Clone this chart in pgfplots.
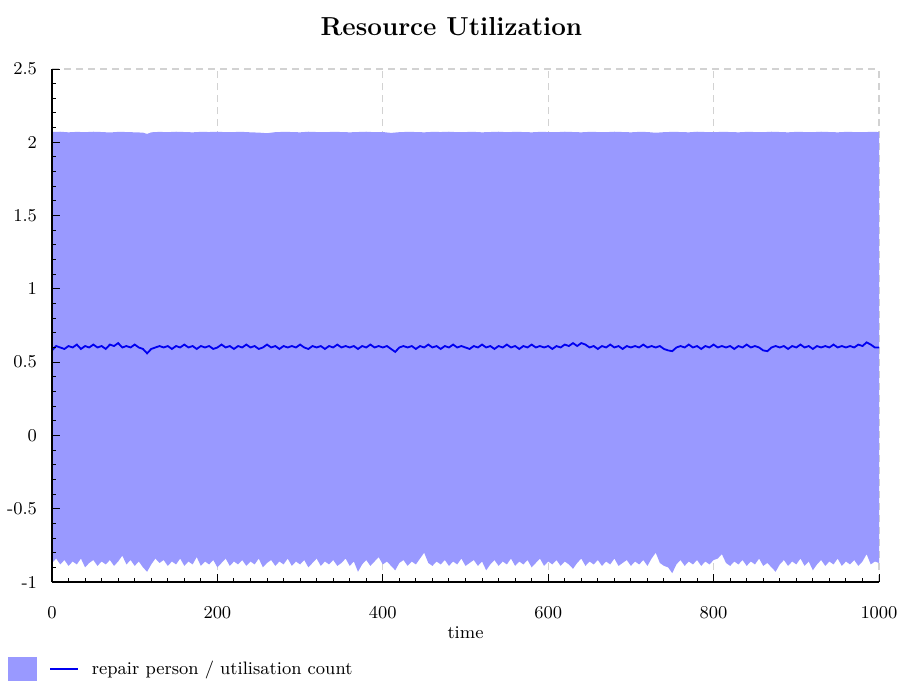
\documentclass[border=0pt]{standalone}
\usepackage{pgfplots}
\pgfplotsset{compat=1.18}
\usepackage{pgfplotstable}
\usepgfplotslibrary{fillbetween}
\definecolor{areafill}{RGB}{153,153,255}
\definecolor{meanline}{RGB}{0,0,240}
\definecolor{gridgray}{RGB}{210,210,210}
\pgfplotsset{layers/mylayers/.define layer set={axis background,axis grid,pre main,main,axis ticks,axis lines,axis tick labels,axis descriptions,axis foreground}{
  grid style={/pgfplots/on layer=axis grid},
  tick style={/pgfplots/on layer=axis ticks},
  axis line style={/pgfplots/on layer=axis lines},
  ticklabel style={/pgfplots/on layer=axis tick labels},
  legend style={/pgfplots/on layer=axis descriptions}
}}
\pgfplotstableread{
t lo mid
0 -0.87 0.58
5 -0.84 0.61
10 -0.88 0.60
15 -0.85 0.59
20 -0.89 0.61
25 -0.86 0.60
30 -0.88 0.62
35 -0.84 0.59
40 -0.90 0.61
45 -0.87 0.60
50 -0.85 0.62
55 -0.89 0.60
60 -0.86 0.61
65 -0.88 0.59
70 -0.85 0.62
75 -0.89 0.61
80 -0.86 0.63
85 -0.82 0.60
90 -0.88 0.61
95 -0.85 0.60
100 -0.89 0.62
105 -0.86 0.60
110 -0.90 0.59
115 -0.93 0.56
120 -0.88 0.59
125 -0.84 0.60
130 -0.87 0.61
135 -0.85 0.60
140 -0.89 0.61
145 -0.86 0.59
150 -0.88 0.61
155 -0.84 0.60
160 -0.89 0.62
165 -0.86 0.60
170 -0.88 0.61
175 -0.83 0.59
180 -0.89 0.61
185 -0.86 0.60
190 -0.88 0.61
195 -0.85 0.59
200 -0.90 0.60
205 -0.87 0.62
210 -0.84 0.60
215 -0.89 0.61
220 -0.86 0.59
225 -0.88 0.61
230 -0.85 0.60
235 -0.89 0.62
240 -0.86 0.60
245 -0.88 0.61
250 -0.84 0.59
255 -0.90 0.60
260 -0.87 0.62
265 -0.85 0.60
270 -0.89 0.61
275 -0.86 0.59
280 -0.88 0.61
285 -0.84 0.60
290 -0.89 0.61
295 -0.86 0.60
300 -0.88 0.62
305 -0.85 0.60
310 -0.90 0.59
315 -0.87 0.61
320 -0.84 0.60
325 -0.89 0.61
330 -0.86 0.59
335 -0.88 0.61
340 -0.85 0.60
345 -0.89 0.62
350 -0.87 0.60
355 -0.84 0.61
360 -0.89 0.60
365 -0.86 0.61
370 -0.93 0.59
375 -0.88 0.61
380 -0.85 0.60
385 -0.89 0.62
390 -0.86 0.60
395 -0.83 0.61
400 -0.88 0.60
405 -0.86 0.61
410 -0.89 0.59
415 -0.92 0.57
420 -0.87 0.60
425 -0.85 0.61
430 -0.89 0.60
435 -0.86 0.61
440 -0.88 0.59
445 -0.84 0.61
450 -0.80 0.60
455 -0.87 0.62
460 -0.89 0.60
465 -0.86 0.61
470 -0.88 0.59
475 -0.85 0.61
480 -0.89 0.60
485 -0.86 0.62
490 -0.88 0.60
495 -0.84 0.61
500 -0.89 0.60
505 -0.87 0.59
510 -0.85 0.61
515 -0.89 0.60
520 -0.86 0.62
525 -0.92 0.60
530 -0.88 0.61
535 -0.85 0.59
540 -0.89 0.61
545 -0.86 0.60
550 -0.88 0.62
555 -0.84 0.60
560 -0.89 0.61
565 -0.86 0.59
570 -0.88 0.61
575 -0.85 0.60
580 -0.90 0.62
585 -0.87 0.60
590 -0.84 0.61
595 -0.89 0.60
600 -0.86 0.61
605 -0.88 0.59
610 -0.85 0.61
615 -0.89 0.60
620 -0.86 0.62
625 -0.88 0.61
630 -0.91 0.63
635 -0.87 0.61
640 -0.84 0.63
645 -0.89 0.62
650 -0.86 0.60
655 -0.88 0.61
660 -0.85 0.59
665 -0.89 0.61
670 -0.86 0.60
675 -0.88 0.62
680 -0.84 0.60
685 -0.89 0.61
690 -0.87 0.59
695 -0.85 0.61
700 -0.89 0.60
705 -0.86 0.61
710 -0.88 0.60
715 -0.85 0.62
720 -0.89 0.60
725 -0.84 0.61
730 -0.80 0.60
735 -0.87 0.61
740 -0.89 0.59
745 -0.90 0.58
750 -0.94 0.575
755 -0.88 0.60
760 -0.85 0.61
765 -0.89 0.60
770 -0.86 0.62
775 -0.88 0.60
780 -0.85 0.61
785 -0.89 0.59
790 -0.86 0.61
795 -0.88 0.60
800 -0.85 0.62
805 -0.84 0.60
810 -0.81 0.61
815 -0.87 0.60
820 -0.89 0.61
825 -0.86 0.59
830 -0.88 0.61
835 -0.85 0.60
840 -0.89 0.62
845 -0.86 0.60
850 -0.88 0.61
855 -0.84 0.60
860 -0.89 0.58
865 -0.87 0.575
870 -0.90 0.60
875 -0.93 0.61
880 -0.88 0.60
885 -0.85 0.61
890 -0.89 0.59
895 -0.86 0.61
900 -0.88 0.60
905 -0.84 0.62
910 -0.89 0.60
915 -0.86 0.61
920 -0.92 0.59
925 -0.88 0.61
930 -0.85 0.60
935 -0.89 0.61
940 -0.86 0.60
945 -0.88 0.62
950 -0.84 0.60
955 -0.89 0.61
960 -0.86 0.60
965 -0.88 0.61
970 -0.85 0.60
975 -0.89 0.62
980 -0.86 0.61
985 -0.81 0.635
990 -0.88 0.62
995 -0.86 0.60
1000 -0.87 0.60
}\datatable
\pgfplotstableread{
t hi
0 2.07
10 2.072
20 2.068
30 2.071
40 2.069
50 2.072
60 2.07
70 2.067
80 2.071
90 2.07
100 2.068
110 2.066
115 2.057
120 2.068
130 2.071
140 2.069
150 2.072
160 2.07
170 2.068
180 2.071
190 2.07
200 2.072
210 2.069
220 2.07
230 2.071
240 2.068
250 2.066
260 2.062
270 2.069
280 2.071
290 2.07
300 2.068
310 2.072
320 2.07
330 2.069
340 2.071
350 2.07
360 2.068
370 2.07
380 2.072
390 2.069
400 2.07
410 2.064
420 2.069
430 2.071
440 2.07
450 2.068
460 2.071
470 2.07
480 2.072
490 2.069
500 2.07
510 2.071
520 2.068
530 2.07
540 2.072
550 2.069
560 2.071
570 2.07
580 2.068
590 2.071
600 2.07
610 2.069
620 2.072
630 2.07
640 2.068
650 2.071
660 2.07
670 2.069
680 2.072
690 2.07
700 2.068
710 2.071
720 2.07
730 2.065
740 2.069
750 2.071
760 2.07
770 2.068
780 2.072
790 2.07
800 2.069
810 2.071
820 2.07
830 2.068
840 2.071
850 2.07
860 2.069
870 2.072
880 2.07
890 2.068
900 2.071
910 2.07
920 2.069
930 2.072
940 2.07
950 2.068
960 2.071
970 2.07
980 2.069
990 2.071
1000 2.07
}\hitable
\begin{document}
\begin{tikzpicture}
\begin{axis}[
  set layers=mylayers,
  scale only axis,
  width=413.5pt, height=256.5pt,
  xmin=0, xmax=1000, ymin=-1, ymax=2.5,
  axis x line=bottom, axis y line=left,
  axis line style={-, line width=0.9pt, black},
  xtick={0,200,...,1000},
  ytick={-1,-0.5,0,0.5,1,1.5,2,2.5},
  yticklabels={{-1},{-0.5},{0},{0.5},{1},{1.5},{2},{2.5}},
  xticklabel style={/pgf/number format/1000 sep={}},
  minor x tick num=9, minor y tick num=4,
  tick align=inside,
  major tick length=4pt, minor tick length=2pt,
  tick style={black, line width=0.5pt},
  xmajorgrids, ymajorgrids,
  major grid style={gridgray, line width=0.6pt, dash pattern=on 3.5pt off 2.5pt},
  tick label style={font=\fontsize{9}{11}\selectfont},
  xticklabel shift=9pt,
  yticklabel shift=4pt,
  every axis title/.style={at={(axis description cs:0.483,1)}, anchor=base, yshift=17pt, font=\bfseries\fontsize{13}{16}\selectfont},
  title={Resource Utilization},
  every axis x label/.style={at={(axis description cs:0.5,0)}, anchor=base, yshift=-28pt, font=\fontsize{9}{11}\selectfont},
  xlabel={time},
  legend style={at={(axis description cs:0,0)}, anchor=west, xshift=-22pt, yshift=-43.5pt,
    draw=none, fill=none, inner sep=0pt, outer sep=0pt, nodes={inner sep=0pt},
    font=\fontsize{9}{11}\selectfont},
  legend image code/.code={
    \path[fill=areafill, draw=none] (0pt,-6pt) rectangle (14.5pt,6pt);
    \path[draw=meanline, line width=0.6pt] (21pt,0pt) -- (35pt,0pt);
    \path[draw=none, fill=none] (0pt,0pt) -- (42pt,0pt);
  },
]
\addplot[name path=upper, draw=none, forget plot] table[x=t, y=hi] {\hitable};
\addplot[name path=lower, draw=none, forget plot] table[x=t, y=lo] {\datatable};
\addplot[areafill, draw=none, forget plot] fill between[of=upper and lower];
\addplot[meanline, line width=0.9pt, no markers] table[x=t, y=mid] {\datatable};
\addlegendentry{repair person / utilisation count}
\end{axis}
\pgfresetboundingbox
\path (-26pt,-52.5pt) rectangle (425.5pt,291pt);
\end{tikzpicture}
\end{document}
